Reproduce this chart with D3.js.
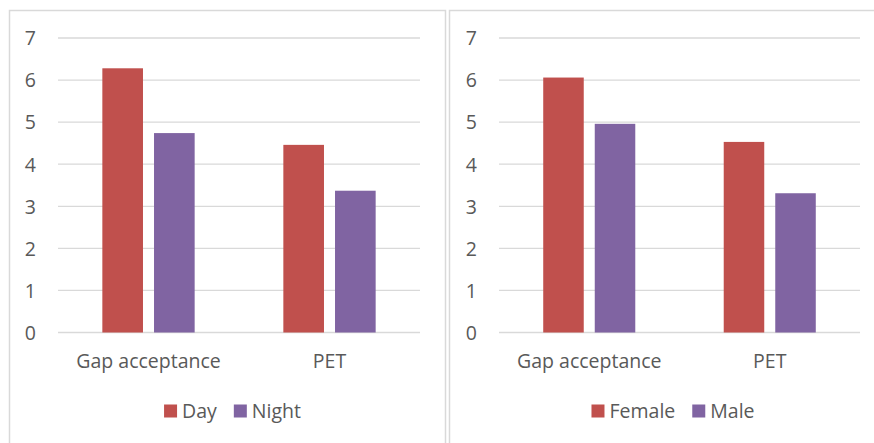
<!DOCTYPE html>
<html>
<head>
<meta charset="utf-8">
<script src="https://cdn.jsdelivr.net/npm/d3@7"></script>
<style>
  html, body { margin: 0; padding: 0; background: #ffffff; }
  svg { display: block; }
  text { font-family: "Open Sans", "Noto Sans", sans-serif; fill: #595959; }
</style>
</head>
<body>
<svg id="chart" width="874" height="443"></svg>
<script>
// ---- data ----
const categories = ["Gap acceptance", "PET"];
const yTicks = [0, 1, 2, 3, 4, 5, 6, 7];

const leftSeriesNames = ["Day", "Night"];
const dayValues = [6.28, 4.46];
const nightValues = [4.74, 3.37];

const rightSeriesNames = ["Female", "Male"];
const femaleValues = [6.06, 4.53];
const maleValues = [4.96, 3.31];

const seriesColors = ["#C0504D", "#8064A2"];

// ---- drawing ----
const svg = d3.select("#chart");
const fontSize = 19.5;

const panels = [
  { x0: 9.5, x1: 445.5, plotL: 58, plotR: 420, names: leftSeriesNames, values: [dayValues, nightValues] },
  { x0: 449.5, x1: 900, plotL: 499, plotR: 860, names: rightSeriesNames, values: [femaleValues, maleValues] }
];

const plotTop = 38, plotBottom = 332.5;

panels.forEach(p => {
  const g = svg.append("g");
  g.append("path")
    .attr("d", `M${p.x0},460 V10.5 H${p.x1} V460`)
    .attr("fill", "none")
    .attr("stroke", "#d9d9d9")
    .attr("stroke-width", 1.5);

  const y = d3.scaleLinear().domain([0, 7]).range([plotBottom, plotTop]);
  const x = d3.scaleBand().domain(categories).range([p.plotL, p.plotR]).paddingInner(0.49).paddingOuter(0.245);
  const xs = d3.scaleBand().domain(p.names).range([0, x.bandwidth()]).paddingInner(0.2136);

  g.append("g").selectAll("line").data(yTicks).join("line")
    .attr("x1", p.plotL).attr("x2", p.plotR)
    .attr("y1", d => y(d)).attr("y2", d => y(d))
    .attr("stroke", "#d9d9d9").attr("stroke-width", 1.3);

  const yAxis = d3.axisLeft(y).tickValues(yTicks).tickFormat(d3.format("d")).tickSize(0).tickPadding(0);
  const ya = g.append("g").attr("transform", `translate(${p.plotL - 22},0)`).call(yAxis);
  ya.select(".domain").remove();
  ya.selectAll("text").attr("font-size", fontSize).attr("font-family", null).style("fill", "#595959").attr("dy", "0.35em");

  p.names.forEach((name, si) => {
    g.append("g").selectAll("rect").data(categories).join("rect")
      .attr("x", c => x(c) + xs(name))
      .attr("width", xs.bandwidth())
      .attr("y", (c, i) => y(p.values[si][i]))
      .attr("height", (c, i) => y(0) - y(p.values[si][i]))
      .attr("fill", seriesColors[si]);
  });

  const xAxis = d3.axisBottom(x).tickSize(0).tickPadding(0);
  const xa = g.append("g").attr("transform", `translate(0,${plotBottom})`).call(xAxis);
  xa.select(".domain").remove();
  xa.selectAll("text").attr("font-size", fontSize).attr("font-family", null).style("fill", "#595959")
    .attr("y", 29).attr("dy", "0.35em");

  // legend, centred under the plot
  const lg = g.append("g");
  let cx = 0;
  p.names.forEach((name, si) => {
    lg.append("rect").attr("x", cx).attr("y", -6.5).attr("width", 13).attr("height", 13).attr("fill", seriesColors[si]);
    const t = lg.append("text").attr("x", cx + 18).attr("y", 0).attr("dy", "0.35em")
      .attr("font-size", fontSize).text(name);
    cx += 18 + t.node().getComputedTextLength();
    if (si < p.names.length - 1) cx += 17;
  });
  const center = (p.plotL + p.plotR) / 2 - 6.5;
  lg.attr("transform", `translate(${center - cx / 2},411)`);
});
</script>
</body>
</html>
